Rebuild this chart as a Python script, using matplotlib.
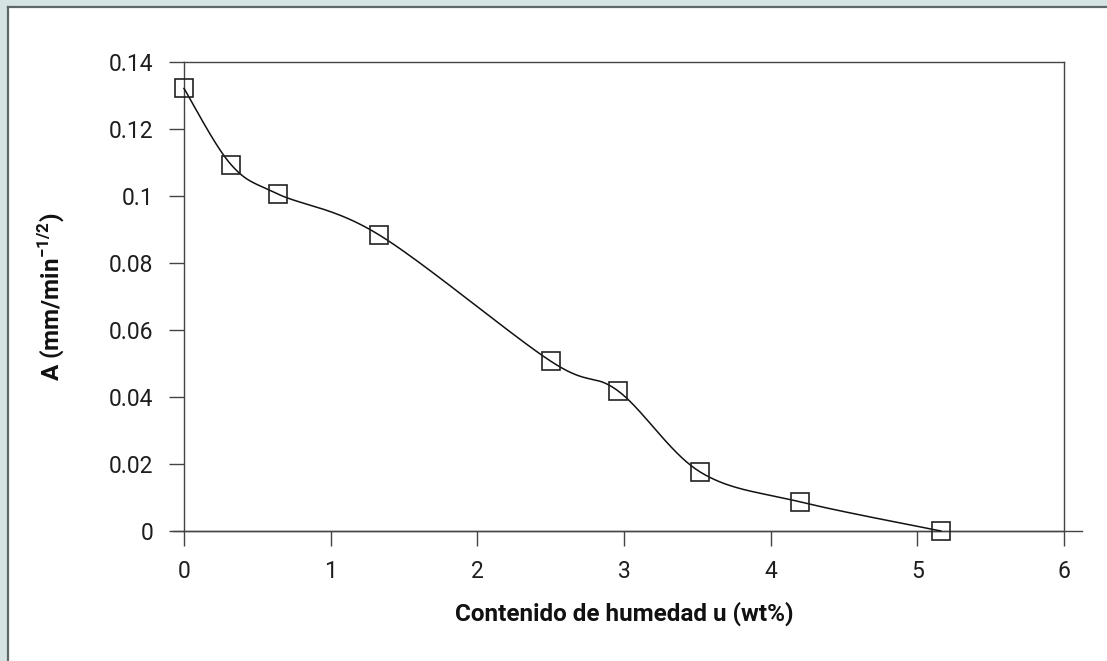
import numpy as np
import matplotlib
matplotlib.use("Agg")
import matplotlib.pyplot as plt
from matplotlib.lines import Line2D
from matplotlib.patches import Rectangle

# ---- data ----
humedad = [0.0, 0.32, 0.64, 1.33, 2.50, 2.96, 3.52, 4.20, 5.16]
A_vals = [0.1321, 0.1094, 0.1006, 0.0884, 0.0507, 0.0418, 0.0176, 0.0087, 0.0]
x_ticks = [0, 1, 2, 3, 4, 5, 6]
y_ticks = [0, 0.02, 0.04, 0.06, 0.08, 0.1, 0.12, 0.14]
y_ticklabels = ["0", "0.02", "0.04", "0.06", "0.08", "0.1", "0.12", "0.14"]
xlabel = "Contenido de humedad u (wt%)"
ylabel = r"A (mm/min$^{\mathregular{-1/2}}$)"

plt.rcParams['font.family'] = ['Roboto', 'DejaVu Sans']

W, H = 1107, 661
fig = plt.figure(figsize=(W / 100, H / 100), dpi=100)
fig.patch.set_facecolor('#d6e3e3')

# white panel with top/left border
fig.add_artist(Rectangle((8 / W, -0.01), 1.1, 1 - 7 / H + 0.01, transform=fig.transFigure,
                         facecolor='white', edgecolor='none', zorder=0))
fig.add_artist(Line2D([8 / W, 8 / W], [0, 1 - 7 / H], transform=fig.transFigure,
                      color='#5f6666', lw=1.6, zorder=1))
fig.add_artist(Line2D([8 / W, 1], [1 - 7 / H, 1 - 7 / H], transform=fig.transFigure,
                      color='#5f6666', lw=1.6, zorder=1))

left, right, top, bottom = 184 / W, 1064 / W, 1 - 62 / H, 1 - 531 / H
ax = fig.add_axes([left, bottom, right - left, top - bottom])
ax.set_facecolor('none')
ax.set_xlim(0, 6)
ax.set_ylim(0, 0.14)

for s in ax.spines.values():
    s.set_color('#444444')
    s.set_linewidth(1.0)

ax.set_xticks(x_ticks)
ax.set_xticklabels([str(t) for t in x_ticks])
ax.set_yticks(y_ticks)
ax.set_yticklabels(y_ticklabels)
ax.tick_params(axis='both', direction='out', length=11, width=1.0, color='#444444',
               labelsize=16.5, labelcolor='#1e1e1e')
ax.tick_params(axis='y', pad=11)
ax.tick_params(axis='x', pad=10)

# extend x axis line to the right
ax.add_line(Line2D([-0.012, 1.02], [0, 0], transform=ax.transAxes, color='#444444',
                   lw=1.0, clip_on=False))

# smooth curve (Excel-like Catmull-Rom in display space)
fig.canvas.draw()
pts = ax.transData.transform(np.column_stack([humedad, A_vals]))
P = np.vstack([pts[0], pts, pts[-1]])
curve = []
t = np.linspace(0, 1, 40)[:, None]
for i in range(1, len(P) - 2):
    p0, p1, p2, p3 = P[i - 1], P[i], P[i + 1], P[i + 2]
    c1 = p1 + (p2 - p0) / 6
    c2 = p2 - (p3 - p1) / 6
    seg = ((1 - t) ** 3) * p1 + 3 * ((1 - t) ** 2) * t * c1 + 3 * (1 - t) * t ** 2 * c2 + t ** 3 * p2
    curve.append(seg)
curve = np.vstack(curve)
curve_data = ax.transData.inverted().transform(curve)
ax.plot(curve_data[:, 0], curve_data[:, 1], color='#111111', lw=1.1, clip_on=False, zorder=3)

ax.plot(humedad, A_vals, linestyle='none', marker='s', markersize=12.5,
        markerfacecolor='none', markeredgecolor='#222222', markeredgewidth=1.2,
        clip_on=False, zorder=4)

ax.set_xlabel(xlabel, fontsize=17.5, fontweight='bold', labelpad=13, color='#111111')
ax.set_ylabel(ylabel, fontsize=17.5, fontweight='bold', labelpad=30, color='#111111')

fig.savefig('out.png', dpi=100, facecolor=fig.get_facecolor())
